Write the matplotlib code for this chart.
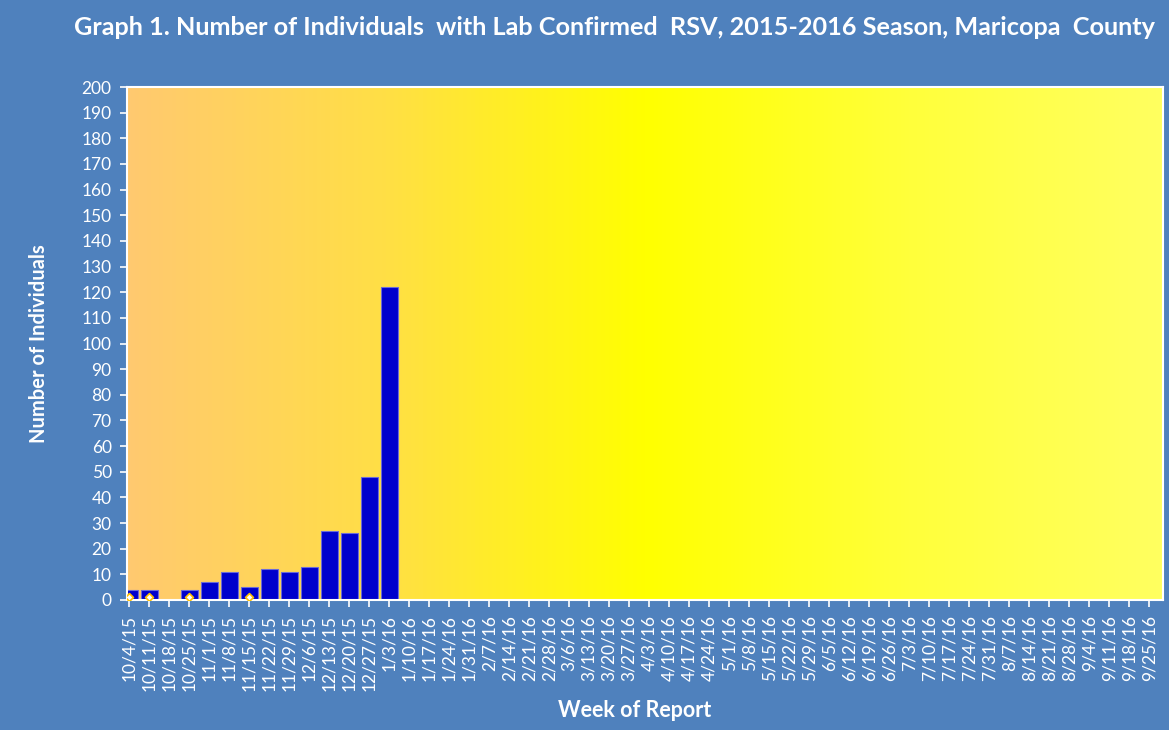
import numpy as np
import matplotlib
matplotlib.use("Agg")
import matplotlib.pyplot as plt
from matplotlib.colors import LinearSegmentedColormap

# week labels, 10/4/15 .. 9/25/16
weeks = ['10/4/15', '10/11/15', '10/18/15', '10/25/15', '11/1/15', '11/8/15', '11/15/15',
         '11/22/15', '11/29/15', '12/6/15', '12/13/15', '12/20/15', '12/27/15', '1/3/16',
         '1/10/16', '1/17/16', '1/24/16', '1/31/16', '2/7/16', '2/14/16', '2/21/16', '2/28/16',
         '3/6/16', '3/13/16', '3/20/16', '3/27/16', '4/3/16', '4/10/16', '4/17/16', '4/24/16',
         '5/1/16', '5/8/16', '5/15/16', '5/22/16', '5/29/16', '6/5/16', '6/12/16', '6/19/16',
         '6/26/16', '7/3/16', '7/10/16', '7/17/16', '7/24/16', '7/31/16', '8/7/16', '8/14/16',
         '8/21/16', '8/28/16', '9/4/16', '9/11/16', '9/18/16', '9/25/16']

# lab confirmed counts reported so far (rest of season not yet reported)
counts = [4, 4, 0, 4, 7, 11, 5, 12, 11, 13, 27, 26, 48, 122]

# small second series shown only as markers near the baseline
marker_vals = [1, 1, None, 1, None, None, 1]

bg = '#4F81BD'
font = ['Lato', 'DejaVu Sans']
plt.rcParams['font.family'] = font

fig = plt.figure(figsize=(11.69, 7.30), dpi=100, facecolor=bg)
ax = fig.add_axes([0.1086, 0.1781, 0.8863, 0.7027])

xlo, xhi = -0.115, 51.685
ax.set_xlim(xlo, xhi)
ax.set_ylim(0, 200)

# gradient fill of the plot area
cmap = LinearSegmentedColormap.from_list('bg', ['#FFC970', '#FFDF45', '#FFFF00', '#FFFF3A', '#FFFF60'])
grad = np.linspace(0, 1, 256).reshape(1, -1)
ax.imshow(grad, cmap=cmap, aspect='auto', extent=[xlo, xhi, 0, 200], zorder=0)

x = np.arange(len(weeks))
ax.bar(x[:len(counts)], counts, width=0.85, color='#0000CC', edgecolor='#6A6AD8',
       linewidth=0.8, zorder=2)

mx = [i for i, v in enumerate(marker_vals) if v is not None]
my = [v for v in marker_vals if v is not None]
ax.scatter(mx, my, marker='D', s=16, facecolor='white', edgecolor='#FFC000',
           linewidth=1.2, zorder=3)

ax.set_xticks(x)
ax.set_xticklabels(weeks, rotation=90, fontsize=12.5, color='white')
ax.set_yticks(range(0, 201, 10))
ax.set_yticklabels([str(v) for v in range(0, 201, 10)], fontsize=12.5, color='white')
ax.tick_params(axis='both', colors='white', direction='out', length=5, width=1.2)
ax.tick_params(axis='x', pad=6)
ax.tick_params(axis='y', pad=6)
for s in ax.spines.values():
    s.set_color('white')
    s.set_linewidth(1.5)

ax.set_ylabel('Number of Individuals', fontsize=14.5, fontweight='bold', color='white')
ax.yaxis.set_label_coords(-0.075, 0.5)
fig.text(0.543, 0.027, 'Week of Report', fontsize=15.5, fontweight='bold', color='white',
         ha='center', va='center')
fig.text(0.988, 0.963, 'Graph 1. Number of Individuals  with Lab Confirmed  RSV, 2015-2016 Season, Maricopa  County',
         fontsize=18.2, fontweight='bold', color='white', ha='right', va='center')

fig.savefig('out.png', dpi=100, facecolor=bg)
